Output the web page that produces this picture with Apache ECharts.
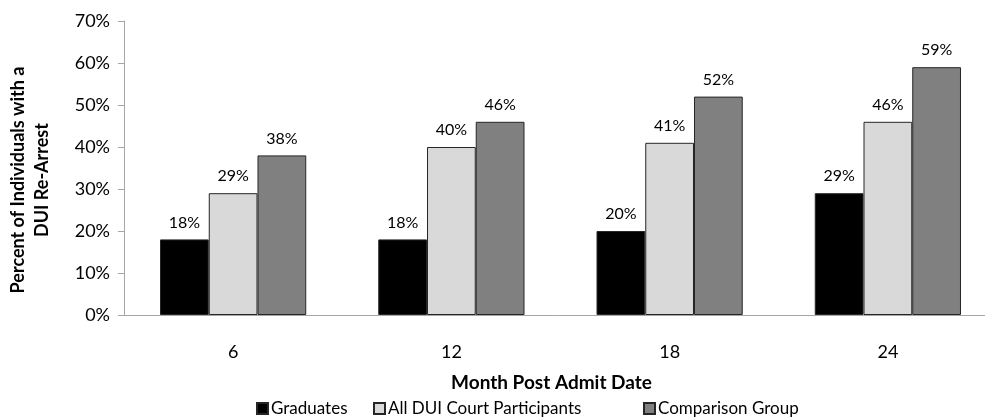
<!DOCTYPE html>
<html>
<head>
<meta charset="utf-8">
<script src="https://cdn.jsdelivr.net/npm/echarts@6/dist/echarts.min.js"></script>
<style>html,body{margin:0;padding:0;background:#fff}#c{width:985px;height:420px}</style>
</head>
<body>
<div id="c"></div>
<script>
const categories = ['6', '12', '18', '24'];
const graduates = [18, 18, 20, 29];
const allParticipants = [29, 40, 41, 46];
const comparison = [38, 46, 52, 59];
const seriesNames = ['Graduates', 'All DUI Court Participants', 'Comparison Group'];
const seriesColors = ['#000000', '#d9d9d9', '#808080'];
const yTicks = [0, 10, 20, 30, 40, 50, 60, 70];

const FONT = 'Lato';
const chart = echarts.init(document.getElementById('c'));
const dataSets = [graduates, allParticipants, comparison];
const legendLefts = [256, 373, 643];

chart.setOption({
  animation: false,
  textStyle: { fontFamily: FONT },
  grid: { left: 124, top: 21, width: 873, height: 294, containLabel: false, outerBoundsMode: 'none' },
  legend: seriesNames.map((n, i) => ({
    data: [n], left: legendLefts[i], top: 400, itemWidth: 11, itemHeight: 11, itemGap: 4,
    icon: 'rect', padding: 0,
    textStyle: { fontFamily: FONT, fontSize: 17, color: '#000', padding: [0, 0, 0, -2] }
  })),
  xAxis: {
    type: 'category', data: categories,
    name: 'Month Post Admit Date', nameLocation: 'middle', nameGap: 58,
    nameTextStyle: { fontFamily: FONT, fontSize: 19, fontWeight: 'bold', color: '#000', padding: [0, 18, 0, 0] },
    axisLine: { lineStyle: { color: '#a6a6a6', width: 1 } },
    axisTick: { show: false },
    axisLabel: { fontSize: 18, color: '#000', margin: 28 }
  },
  yAxis: {
    type: 'value', min: yTicks[0], max: yTicks[yTicks.length - 1], interval: 10,
    name: 'Percent of Individuals with a\nDUI Re-Arrest', nameLocation: 'middle', nameRotate: 90, nameGap: 70,
    nameMoveOverlap: false,
    nameTextStyle: { fontFamily: FONT, fontSize: 18, fontWeight: 'bold', color: '#000', lineHeight: 24, padding: [0, 24, 0, 0] },
    axisLine: { show: true, lineStyle: { color: '#a6a6a6' } },
    axisTick: { show: true, length: 6, lineStyle: { color: '#a6a6a6' } },
    splitLine: { show: false },
    axisLabel: { fontSize: 18, color: '#000', margin: 14, formatter: v => v + '%' }
  },
  series: dataSets.map((d, i) => ({
    name: seriesNames[i], type: 'bar', data: d,
    barGap: '0%', barCategoryGap: '33%',
    itemStyle: { color: seriesColors[i], borderColor: '#262626', borderWidth: 1 },
    label: { show: true, position: 'top', distance: 9, fontSize: 16, color: '#000', formatter: p => p.value + '%' }
  }))
});
</script>
</body>
</html>
